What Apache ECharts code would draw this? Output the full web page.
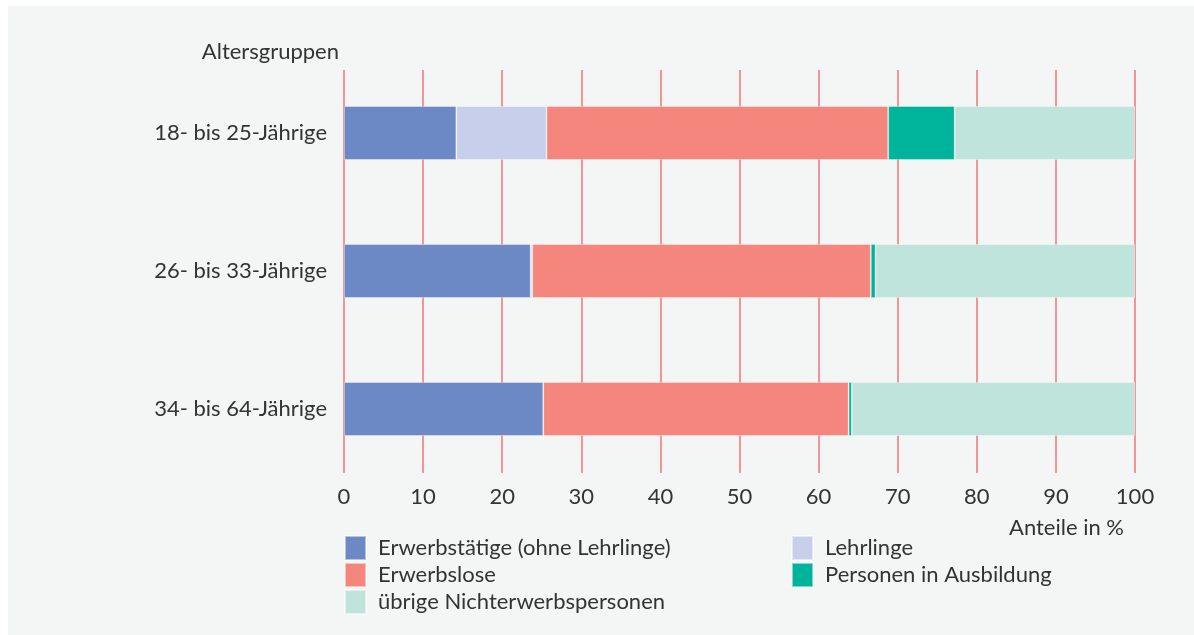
<!DOCTYPE html>
<html><head><meta charset="utf-8">
<script src="https://cdn.jsdelivr.net/npm/echarts@6/dist/echarts.min.js"></script>
<style>html,body{margin:0;padding:0;background:#fff}#c{width:1194px;height:635px}</style>
</head><body><div id="c"></div>
<script>
const categories = ['18- bis 25-Jährige', '26- bis 33-Jährige', '34- bis 64-Jährige'];
const erwerbstaetige = [14.2, 23.6, 25.2];
const lehrlinge = [11.4, 0.2, 0];
const erwerbslose = [43.2, 42.8, 38.6];
const ausbildung = [8.4, 0.6, 0.4];
const uebrige = [22.8, 32.8, 35.8];
const xTicks = {min: 0, max: 100, interval: 10};
const seriesNames = ['Erwerbstätige (ohne Lehrlinge)', 'Lehrlinge', 'Erwerbslose', 'Personen in Ausbildung', 'übrige Nichterwerbspersonen'];
const colors = ['#6d89c5', '#c8cfea', '#f4867e', '#00b39b', '#bfe4dc'];
const values = [erwerbstaetige, lehrlinge, erwerbslose, ausbildung, uebrige];

const FONT = 'Lato';
const FS = 22;
const chart = echarts.init(document.getElementById('c'));
chart.setOption({
  backgroundColor: '#ffffff',
  textStyle: {fontFamily: FONT},
  graphic: [
    {type: 'rect', z: -10, shape: {x: 8, y: 6, width: 1200, height: 640}, style: {fill: '#f4f6f5'}},
    {type: 'text', x: 339, y: 52, style: {text: 'Altersgruppen', font: FS + 'px ' + FONT, fill: '#333', textAlign: 'right', textVerticalAlign: 'middle'}},
    {type: 'text', x: 1124, y: 528, style: {text: 'Anteile in %', font: FS + 'px ' + FONT, fill: '#333', textAlign: 'right', textVerticalAlign: 'middle'}}
  ],
  grid: [
    {left: 344, right: 59, top: 64, bottom: 157},
    {left: 344, right: 59, top: 70, bottom: 162}
  ],
  xAxis: [
    {gridIndex: 0, type: 'value', min: xTicks.min, max: xTicks.max, interval: xTicks.interval, show: false, splitLine: {show: false}},
    {gridIndex: 1, type: 'value', min: xTicks.min, max: xTicks.max, interval: xTicks.interval,
     axisLine: {show: false}, axisTick: {show: false},
     splitLine: {show: true, lineStyle: {color: '#f07478', width: 1.5}},
     axisLabel: {margin: 13, fontSize: FS, color: '#333', fontFamily: FONT}}
  ],
  yAxis: [
    {gridIndex: 0, type: 'category', data: categories, inverse: true,
     axisLine: {show: false}, axisTick: {show: false},
     axisLabel: {margin: 17, fontSize: FS, color: '#333', fontFamily: FONT}},
    {gridIndex: 1, type: 'category', data: categories, show: false}
  ],
  legend: [
    {left: 339, top: 530, orient: 'vertical', itemWidth: 21, itemHeight: 24, itemGap: 1, icon: 'rect',
     data: [seriesNames[0], seriesNames[2], seriesNames[4]], selectedMode: false,
     textStyle: {fontSize: FS, color: '#333', fontFamily: FONT, padding: [0, 0, 0, 7]}},
    {left: 786, top: 530, orient: 'vertical', itemWidth: 21, itemHeight: 24, itemGap: 1, icon: 'rect',
     data: [seriesNames[1], seriesNames[3]], selectedMode: false,
     textStyle: {fontSize: FS, color: '#333', fontFamily: FONT, padding: [0, 0, 0, 7]}}
  ],
  series: seriesNames.map((n, i) => ({
    name: n, type: 'bar', stack: 'total', xAxisIndex: 0, yAxisIndex: 0,
    data: values[i], barWidth: 54, z: 5,
    itemStyle: {color: colors[i], borderColor: 'rgba(255,255,255,0.5)', borderWidth: 0.8},
    animation: false
  })),
  animation: false
});
</script></body></html>
